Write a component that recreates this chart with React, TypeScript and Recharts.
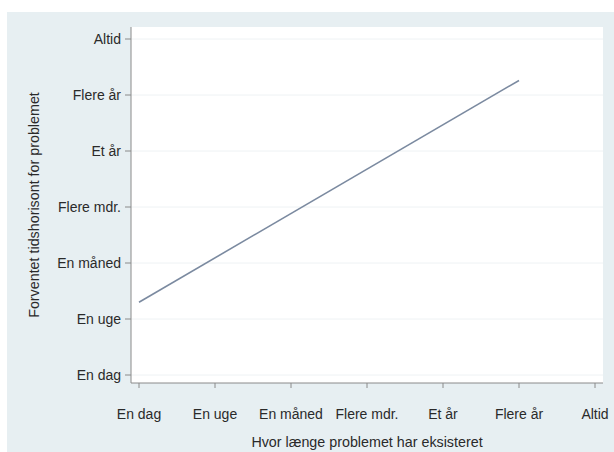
import React from "react";
import { LineChart, Line, XAxis, YAxis, CartesianGrid } from "recharts";

const categories = ["En dag", "En uge", "En måned", "Flere mdr.", "Et år", "Flere år", "Altid"];
const tickValues = [0, 1, 2, 3, 4, 5, 6];
const xValues = [0, 5];
const yValues = [1.3, 5.26];

const data = xValues.map((x, i) => ({ x, y: yValues[i] }));
const fmt = (v: number) => categories[v] ?? "";

const font = "'Liberation Sans', Arial, sans-serif";

export default function App() {
  return (
    <div style={{ position: "absolute", left: 0, top: 0, width: 614, height: 452, background: "#ffffff" }}>
      <div style={{ position: "absolute", left: 7, top: 12, width: 607, height: 440, background: "#e7eff2" }} />
      <div style={{ position: "absolute", left: 0, top: 0 }}>
        <LineChart width={614} height={452} data={data} margin={{ top: 27, right: 11, bottom: 0, left: 0 }}>
          <CartesianGrid fill="#ffffff" vertical={false} stroke="#eef2f4" horizontalValues={tickValues} />
          <XAxis
            type="number"
            dataKey="x"
            domain={[0, 6]}
            ticks={tickValues}
            tickFormatter={fmt}
            padding={{ left: 8, right: 8 }}
            height={69}
            tickSize={5}
            tickMargin={21}
            stroke="#8a8a8a"
            tick={{ fill: "#2a2a2a", fontSize: 14, fontFamily: font }}
            label={{ value: "Hvor længe problemet har eksisteret", position: "insideBottom", offset: 5, fill: "#2a2a2a", fontSize: 14.3, fontFamily: font }}
            interval={0}
          />
          <YAxis
            type="number"
            dataKey="y"
            domain={[0, 6]}
            ticks={tickValues}
            tickFormatter={fmt}
            padding={{ top: 12, bottom: 8 }}
            width={131}
            tickSize={6}
            tickMargin={4}
            stroke="#8a8a8a"
            tick={{ fill: "#2a2a2a", fontSize: 14, fontFamily: font }}
            label={{ value: "Forventet tidshorisont for problemet", angle: -90, position: "insideLeft", offset: 34, fill: "#2a2a2a", fontSize: 14.3, fontFamily: font, style: { textAnchor: "middle" } }}
            interval={0}
          />
          <Line type="linear" dataKey="y" stroke="#7b8aa0" strokeWidth={1.6} dot={false} isAnimationActive={false} />
        </LineChart>
      </div>
    </div>
  );
}
